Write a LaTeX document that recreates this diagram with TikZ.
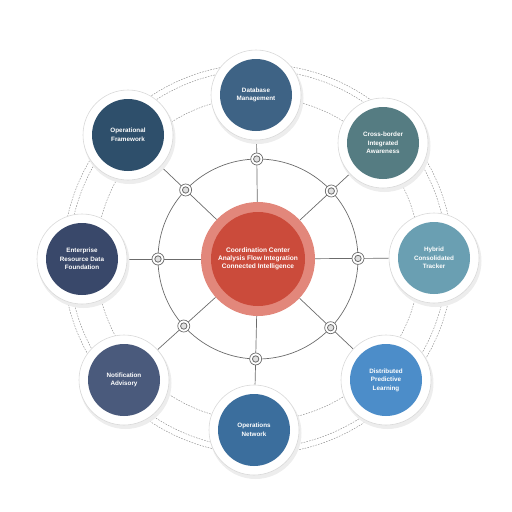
\documentclass[tikz,border=0pt]{standalone}
\usepackage{fontspec}
\setsansfont{Liberation Sans}
\usetikzlibrary{calc,positioning,backgrounds}
\definecolor{wire}{HTML}{6B6B6B}
\definecolor{dashgray}{HTML}{8C8C8C}
\definecolor{coreout}{HTML}{E2877B}
\definecolor{corein}{HTML}{CB4B3B}
\definecolor{cA}{HTML}{3E6385}
\definecolor{cB}{HTML}{557C82}
\definecolor{cC}{HTML}{6A9FB2}
\definecolor{cD}{HTML}{4C8DC9}
\definecolor{cE}{HTML}{3B6E9D}
\definecolor{cF}{HTML}{4A5A7C}
\definecolor{cG}{HTML}{39486A}
\definecolor{cH}{HTML}{2E4F6B}
\tikzset{hub/.style={circle,fill=white,draw=black!15,line width=.6pt,minimum size=90pt,inner sep=0pt},
 disk/.style={circle,minimum size=72pt,inner sep=0pt,text=white,align=center,font=\sffamily\bfseries\fontsize{6.3}{8.6}\selectfont},
 spoke/.style={draw=wire,line width=.7pt},
 dashring/.style={draw=dashgray,line width=.45pt,dash pattern=on 1.6pt off 1.2pt},
 joint/.style={circle,fill=white,draw=wire,line width=.7pt,minimum size=12pt,inner sep=0pt}}

\begin{document}
\begin{tikzpicture}[x=1pt,y=-1pt]
\useasboundingbox (0,0) rectangle (512,512);
\coordinate (c) at (258,259);
% dashed orbits and inner ring
\foreach \r in {162,189,195} \draw[dashring] (c) circle (\r);
\draw[spoke] (c) circle (100);
% center hub
\node[circle,fill=coreout,minimum size=114pt,inner sep=0pt] (core) at (c) {};
\node[circle,fill=corein,minimum size=94pt,inner sep=0pt,text=white,align=center,font=\sffamily\bfseries\fontsize{6.6}{7.8}\selectfont] (corein) at (c) {Coordination Center\\Analysis Flow Integration\\Connected Intelligence};
% outer nodes
\foreach \n/\x/\y/\col/\txt in {A/256/95/cA/{Database\\Management},B/383/143/cB/{Cross-border\\Integrated\\Awareness},C/434/258/cC/{Hybrid\\Consolidated\\Tracker},D/386/380/cD/{Distributed\\Predictive\\Learning},E/254/430/cE/{Operations\\Network},F/124/380/cF/{Notification\\Advisory},G/82/259/cG/{Enterprise\\Resource Data\\Foundation},H/128/135/cH/{Operational\\Framework}}{
 \fill[black!7] (\x+1.5,\y+3) circle (46);
 \node[hub] (o\n) at (\x,\y) {};
 \node[disk,fill=\col] (t\n) at (o\n) {\txt};
 \begin{scope}[on background layer]
  \draw[spoke] (core) -- (o\n);
 \end{scope}
 \node[joint] (s\n) at ($(c)!100pt!(o\n)$) {};
 \draw[wire,line width=.8pt,fill=black!12] (s\n) circle (3.2);
}
\end{tikzpicture}
\end{document}
